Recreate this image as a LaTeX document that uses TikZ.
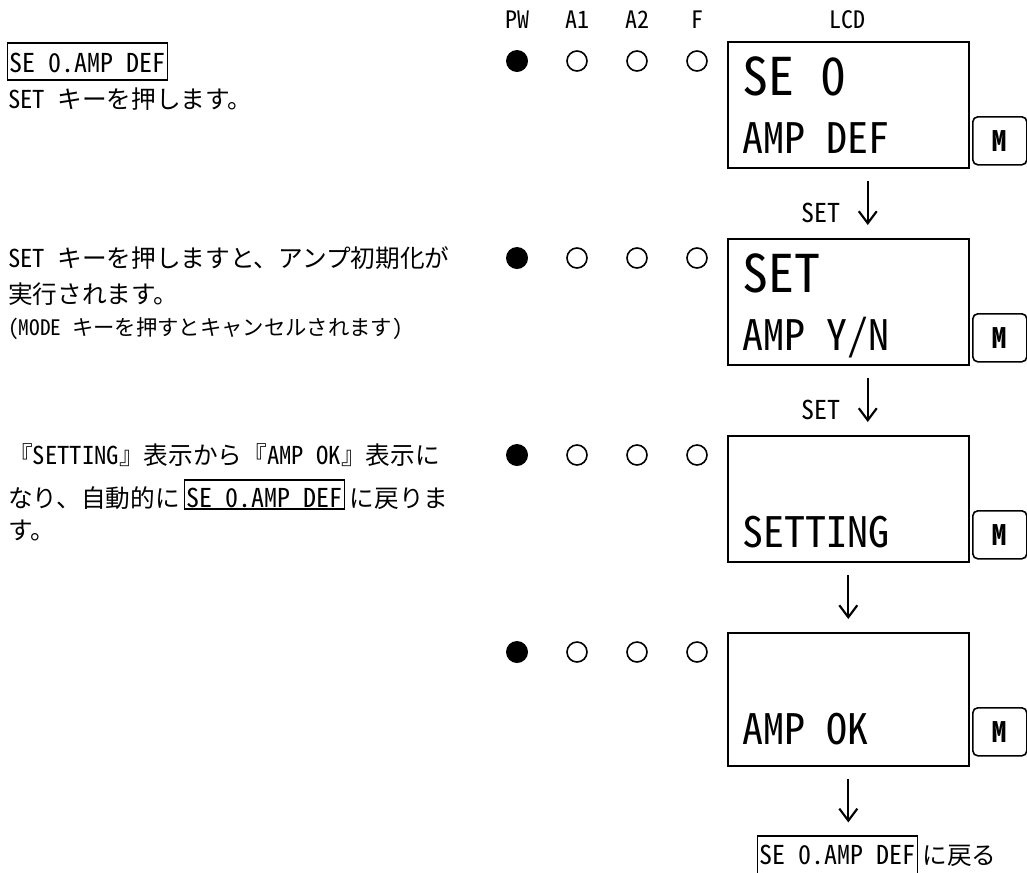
\documentclass[tikz,border=0pt]{standalone}
\usepackage{fontspec}
\setmainfont{Noto Sans CJK JP}
\newfontfamily\hwfam{Noto Sans CJK JP}[RawFeature=+hwid]
\newcommand\hw{\hwfam\fontdimen2\font=0.5em\fontdimen3\font=0pt\fontdimen4\font=0pt\relax}
\usetikzlibrary{calc,positioning,arrows.meta}
\definecolor{PanelInk}{RGB}{0,0,0}

\begin{document}
\begin{tikzpicture}[x=0.75pt,y=-0.75pt,
    body/.style={anchor=base west,inner sep=0pt,text=PanelInk,font=\fontsize{18.5pt}{22pt}\selectfont},
    note/.style={body,font=\fontsize{16pt}{19pt}\selectfont},
    keybox/.style={draw=PanelInk,line width=0.9pt,anchor=base west,inner xsep=1.5pt,inner ysep=0.75pt,font={\fontsize{19.5pt}{22pt}\selectfont\hw}},
    hdr/.style={anchor=base,inner sep=0pt,font={\fontsize{18pt}{20pt}\selectfont\hw}},
    ledon/.style={circle,fill=PanelInk,minimum size=16.5pt,inner sep=0pt},
    ledoff/.style={circle,draw=PanelInk,line width=1.2pt,minimum size=15pt,inner sep=0pt},
    lcdbox/.style={draw=PanelInk,line width=1.2pt,anchor=north west,minimum width=180.75pt,inner sep=0pt},
    lcdbig/.style={anchor=base west,inner sep=0pt,font={\fontsize{39pt}{40pt}\selectfont\hw}},
    lcdsmall/.style={anchor=base west,inner sep=0pt,font={\fontsize{31.5pt}{32pt}\selectfont\hw}},
    mkey/.style={draw=PanelInk,line width=1.2pt,rounded corners=3.75pt,anchor=north west,minimum width=40.5pt,minimum height=36pt,inner sep=0pt,font={\fontsize{21pt}{21pt}\selectfont\hw\bfseries}},
    setkey/.style={anchor=base east,inner sep=0pt,font={\fontsize{19.5pt}{20pt}\selectfont\hw}},
    flow/.style={draw=PanelInk,line width=1.6pt,shorten <=9pt,shorten >=9.75pt,-{Straight Barb[length=9pt,width=13.5pt]}}]
  \useasboundingbox (0,0) rectangle (1027,872);

  % column headings
  \foreach \lbl/\cx in {PW/517,A1/577,A2/637,F/697,LCD/847.5}
    \node[hdr] (h\lbl) at (\cx,28) {\lbl};

  % lamps, display and mode key of each step
  \foreach \row/\ty/\hgt in {1/41/126,2/238/126,3/435/126,4/632/133} {
    \node[ledon] (pw\row) at (517,\ty+20) {};
    \node[ledoff] (aa\row) at (577,\ty+20) {};
    \node[ledoff] (ab\row) at (637,\ty+20) {};
    \node[ledoff] (ff\row) at (697,\ty+20) {};
    \node[lcdbox,minimum height=\hgt*0.75pt] (lcd\row) at (727,\ty) {};
    \node[mkey] (mk\row) at (972,\ty+75) {M};
  }

  \node[lcdbig] (lcdta) at ($(lcd1.north west)+(15,54)$) {SE 0};
  \node[lcdsmall] (lcdtb) at ($(lcd1.north west)+(15,112)$) {AMP DEF};
  \node[lcdbig] (lcdtc) at ($(lcd2.north west)+(15,54)$) {SET};
  \node[lcdsmall] (lcdtd) at ($(lcd2.north west)+(15,112)$) {AMP Y/N};
  \node[lcdsmall] (lcdte) at ($(lcd3.north west)+(15,112)$) {SETTING};
  \node[lcdsmall] (lcdtf) at ($(lcd4.north west)+(15,112)$) {AMP OK};

  % key presses between the steps
  \draw[flow] ([xshift=14.6pt]lcd1.south) -- ([xshift=14.6pt]lcd2.north);
  \node[setkey] (seta) at (841,222) {SET};
  \draw[flow] ([xshift=14.6pt]lcd2.south) -- ([xshift=14.6pt]lcd3.north);
  \node[setkey] (setb) at (841,419) {SET};
  \draw[flow] (lcd3.south) -- (lcd4.north);

  \node[keybox,text height=20.25pt,text depth=9pt] (back) at (757,864) {SE 0.AMP DEF};
  \node[body] (backtxt) at ([xshift=3pt]back.base east) {に戻る};
  \draw[flow] (lcd4.south) -- (lcd4.south |- back.north);

  % explanations
  \node[keybox,text height=21pt,text depth=5.25pt] (sebox) at (7,72) {SE 0.AMP DEF};
  \node[body] (stepa) at (8,108) {{\hw SET }キーを押します。};
  \node[body] (stepb) at (8,267) {{\hw SET }キーを押しますと、アンプ初期化が};
  \node[body] (stepc) at (8,303) {実行されます。};
  \node[note] (stepd) at (8,335) {{\hw (MODE }キーを押すとキャンセルされます{\hw )}};
  \node[body] (stepe) at (8,464) {『{\hw SETTING}』表示から『{\hw AMP OK}』表示に};
  \node[body] (stepf) at (8,507) {なり、自動的に};
  \node[keybox,text height=19.5pt,text depth=0.75pt] (seboxb) at ([xshift=3pt]stepf.base east) {SE 0.AMP DEF};
  \node[body] (stepg) at ([xshift=3pt]seboxb.base east) {に戻りま};
  \node[body] (steph) at (8,539) {す。};
\end{tikzpicture}
\end{document}
